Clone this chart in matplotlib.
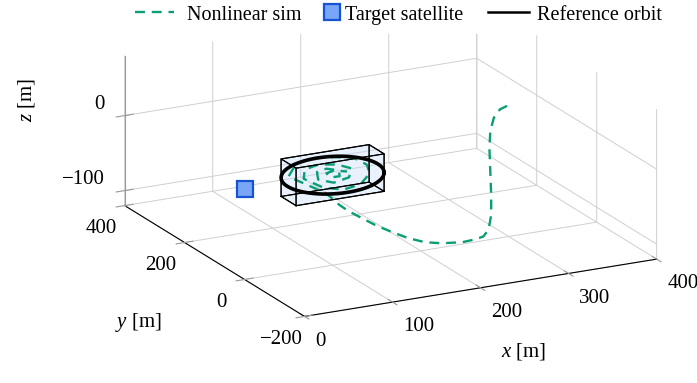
import numpy as np
import matplotlib
matplotlib.use("Agg")
import matplotlib.pyplot as plt
from matplotlib.lines import Line2D
from matplotlib.patches import Rectangle
from mpl_toolkits.mplot3d.art3d import Poly3DCollection

plt.rcParams['font.family'] = ['Liberation Serif', 'DejaVu Serif']
plt.rcParams['mathtext.fontset'] = 'custom'
plt.rcParams['mathtext.rm'] = 'Liberation Serif'
plt.rcParams['mathtext.it'] = 'Liberation Serif:italic'
plt.rcParams['font.size'] = 15
plt.rcParams['grid.color'] = '#cfcfcf'
plt.rcParams['grid.linewidth'] = 0.7

# nonlinear simulation: approach leg (x, y, z in m)
sim_x = [291, 283, 276, 272, 271, 272, 273, 273, 270, 264, 255, 240, 217, 198, 179,
         160, 141, 126, 111, 100, 92, 85]
sim_y = [-21] * 22
sim_z = [61, 58, 48, 31, 8, -23, -54, -81, -100, -108, -110, -111, -108, -103, -94,
         -82, -69, -57, -45, -34, -24, -16]
# nonlinear simulation: motion inside the box
loop_x = [72, 57, 65, 82, 101, 120, 133, 136, 127, 111, 91, 72, 73, 86, 104, 118,
          116, 101, 86, 85, 94, 106, 107, 98, 94, 101, 114]
loop_y = [14, 21, 18, 9, -1, -10, -17, -18, -14, -5, 4, 14, 14, 7, -2, -9,
          -8, -1, 7, 8, 3, -3, -3, 1, 3, -1, -7]
loop_z = [-9, 1, 18, 24, 24, 22, 12, 0, -14, -20, -16, -3, 9, 15, 14, 8,
          -4, -10, -5, 5, 9, 6, -2, -3, 3, 6, 4]

# target satellite
target = [0, 0, 0]

# reference orbit: centre and two half-axis vectors
orbit_c = [100, 0, 0]
orbit_u = [50, -25, 0]
orbit_v = [0, 0, 25]

# box bounds
box_x = [50, 150]
box_y = [-25, 25]
box_z = [-25, 25]

xticks = [0, 100, 200, 300, 400]
yticks = [-200, 0, 200, 400]
zticks = [-100, 0]

green = '#0a9e74'
dash = (4.2, 2.9)

fig = plt.figure(figsize=(6.97, 3.83), dpi=100)
# oversized square axes centred on the box projection
ax = fig.add_axes([(382 - 320) / 697, (217 - 320) / 383, 640 / 697, 640 / 383],
                  projection='3d', proj_type='ortho', computed_zorder=False)
ax.view_init(elev=18.46, azim=-117.2)
ax.set_box_aspect((396, 393.6, 158.2), zoom=0.88)
ax.set_xlim(0, 400)
ax.set_ylim(-200, 400)
ax.set_zlim(-120, 80)

# box
xs, ys, zs = box_x, box_y, box_z
faces = [
    [(xs[0], ys[0], zs[0]), (xs[1], ys[0], zs[0]), (xs[1], ys[1], zs[0]), (xs[0], ys[1], zs[0])],
    [(xs[0], ys[0], zs[1]), (xs[1], ys[0], zs[1]), (xs[1], ys[1], zs[1]), (xs[0], ys[1], zs[1])],
    [(xs[0], ys[0], zs[0]), (xs[1], ys[0], zs[0]), (xs[1], ys[0], zs[1]), (xs[0], ys[0], zs[1])],
    [(xs[0], ys[1], zs[0]), (xs[1], ys[1], zs[0]), (xs[1], ys[1], zs[1]), (xs[0], ys[1], zs[1])],
    [(xs[0], ys[0], zs[0]), (xs[0], ys[1], zs[0]), (xs[0], ys[1], zs[1]), (xs[0], ys[0], zs[1])],
    [(xs[1], ys[0], zs[0]), (xs[1], ys[1], zs[0]), (xs[1], ys[1], zs[1]), (xs[1], ys[0], zs[1])],
]
box = Poly3DCollection(faces, facecolors=[(0.78, 0.87, 0.98, 0.22)] * 6,
                       edgecolors=[(0, 0, 0, 0)] * 6, zorder=2)
ax.add_collection3d(box)

ax.plot(sim_x + loop_x, sim_y + loop_y, sim_z + loop_z, color=green, lw=1.7,
        dashes=dash, zorder=3)

for f in faces:
    fx = [p[0] for p in f] + [f[0][0]]
    fy = [p[1] for p in f] + [f[0][1]]
    fz = [p[2] for p in f] + [f[0][2]]
    ax.plot(fx, fy, fz, color='black', lw=0.8, zorder=4)

t = np.linspace(0, 2 * np.pi, 200)
ox = orbit_c[0] + orbit_u[0] * np.cos(t) + orbit_v[0] * np.sin(t)
oy = orbit_c[1] + orbit_u[1] * np.cos(t) + orbit_v[1] * np.sin(t)
oz = orbit_c[2] + orbit_u[2] * np.cos(t) + orbit_v[2] * np.sin(t)
ax.plot(ox, oy, oz, color='black', lw=2.6, zorder=5)

ax.plot([target[0]], [target[1]], [target[2]], marker='s', ms=11, mfc='#79a6f7',
        mec='#1552d4', mew=1.6, ls='none', zorder=6)

ax.set_xticks(xticks)
ax.set_yticks(yticks)
ax.set_zticks(zticks)
ax.set_xticklabels([str(v) for v in xticks], ha='left', va='top')
ax.set_yticklabels([str(v).replace('-', '\u2212') for v in yticks], ha='center', va='top')
ax.set_zticklabels([str(v).replace('-', '\u2212') for v in zticks], ha='right', va='bottom')
ax.tick_params(axis='x', pad=6)
ax.tick_params(axis='y', pad=8)
ax.tick_params(axis='z', pad=1)

for axis in (ax.xaxis, ax.yaxis, ax.zaxis):
    axis.set_pane_color((1, 1, 1, 0))
    axis.pane.set_edgecolor('#c8c8c8')
    axis._axinfo['grid']['color'] = '#cfcfcf'
    axis._axinfo['grid']['linewidth'] = 0.7
    axis._axinfo['tick']['inward_factor'] = 0.3
    axis._axinfo['tick']['outward_factor'] = 0.3
ax.xaxis.line.set_color('black')
ax.yaxis.line.set_color('black')
ax.zaxis.line.set_color('#999999')
ax.tick_params(color='#999999', labelcolor='black')

# axis titles placed as in the reference layout
fig.text(524 / 697, 1 - 352 / 383, r'$x$ [m]', ha='center', va='center', fontsize=15)
fig.text(138 / 697, 1 - 323 / 383, r'$y$ [m]', ha='center', va='center', fontsize=15)
fig.text(27 / 697, 1 - 100 / 383, r'$z$ [m]', ha='center', va='center', fontsize=15,
         rotation=90)

# white legend band over the top of the back walls
fig.add_artist(Rectangle((100 / 697, 1 - 34 / 383), 590 / 697, 34 / 383,
                         transform=fig.transFigure, facecolor='white',
                         edgecolor='none', zorder=4))

h_sim = Line2D([], [], color=green, lw=1.7, dashes=dash)
h_tgt = Line2D([], [], marker='s', ms=11, mfc='#79a6f7', mec='#1552d4', mew=1.6, ls='none')
h_ref = Line2D([], [], color='black', lw=1.8)
entries = [
    (h_sim, 'Nonlinear sim', 135, 1.96, 0.62),
    (h_tgt, 'Target satellite', 323, 0.88, 0.2),
    (h_ref, 'Reference orbit', 488, 2.06, 0.39),
]
for h, label, x0, hl, pad in entries:
    fig.legend([h], [label], loc='center left', bbox_to_anchor=(x0 / 697, 1 - 15 / 383),
               frameon=False, borderpad=0, borderaxespad=0, fontsize=14.5,
               handlelength=hl, handletextpad=pad)

fig.savefig('out.png', dpi=100)
